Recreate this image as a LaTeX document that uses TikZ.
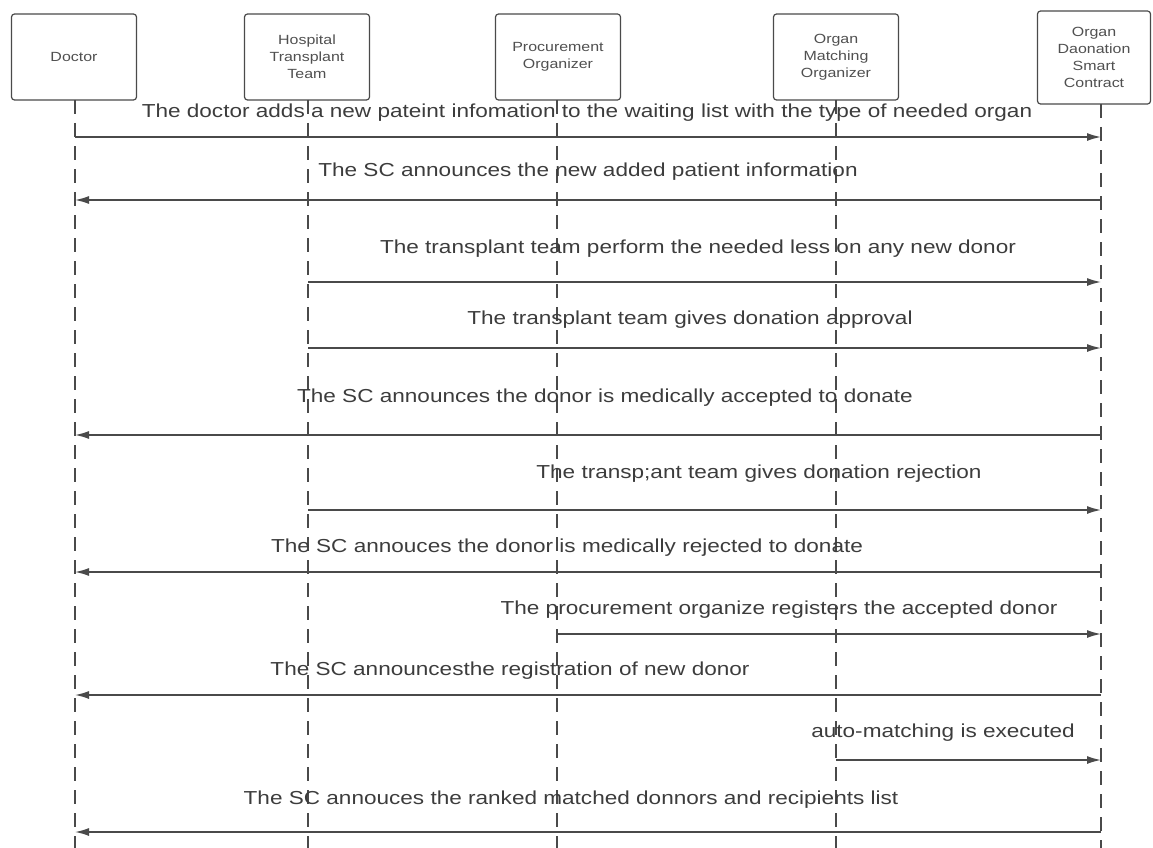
\documentclass[tikz,border=0pt]{standalone}
\usepackage{fontspec}
\setmainfont{Liberation Sans}[FakeStretch=1.2]
\usetikzlibrary{arrows.meta}
\definecolor{ln}{HTML}{4A4A4A}
\definecolor{tx}{HTML}{3C3C3C}
\definecolor{bt}{HTML}{505050}
\begin{document}
\begin{tikzpicture}[x=1pt,y=-1pt,
  actor/.style={draw=ln,line width=1.2pt,rounded corners=3pt,fill=white,align=center,
    font=\fontsize{13.3}{16.8}\selectfont,text=bt,inner sep=0pt},
  life/.style={draw=ln,line width=1.5pt,dash pattern=on 14pt off 9pt},
  msg/.style={draw=ln,line width=1.5pt,-{Latex[length=14pt,width=8pt]}},
  lbl/.style={font=\fontsize{18.8}{21}\selectfont,text=tx,inner sep=0pt}]
\useasboundingbox (0,0) rectangle (1153,848);
% actors
\node[actor,minimum width=125pt,minimum height=86pt] (doc) at (74,57) {Doctor};
\node[actor,minimum width=125pt,minimum height=86pt] (hos) at (307,57) {Hospital\\Transplant\\Team};
\node[actor,minimum width=125pt,minimum height=86pt] (pro) at (558,57) {Procurement\\Organizer};
\node[actor,minimum width=125pt,minimum height=86pt] (mat) at (836,57) {Organ\\Matching\\Organizer};
\node[actor,minimum width=113pt,minimum height=93pt] (sc) at (1094,57.5) {Organ\\Daonation\\Smart\\Contract};
% lifeline ends
\coordinate (docE) at (75,848);
\coordinate (hosE) at (308,848);
\coordinate (proE) at (557,848);
\coordinate (matE) at (836,848);
\coordinate (scE) at (1101,848);
\draw[life] (75,100) coordinate (docS) -- (docE);
\draw[life] (308,100) coordinate (hosS) -- (hosE);
\draw[life] (557,100) coordinate (proS) -- (proE);
\draw[life] (836,100) coordinate (matS) -- (matE);
\draw[life] (1101,104) coordinate (scS) -- (scE);
% message endpoints
\coordinate (d1) at (75,137);   \coordinate (s1) at (1101,137);
\coordinate (s2) at (1101,200); \coordinate (d2) at (75,200);
\coordinate (h3) at (308,282);  \coordinate (s3) at (1101,282);
\coordinate (h4) at (308,348);  \coordinate (s4) at (1101,348);
\coordinate (s5) at (1101,435); \coordinate (d5) at (75,435);
\coordinate (h6) at (308,510);  \coordinate (s6) at (1101,510);
\coordinate (s7) at (1101,572); \coordinate (d7) at (75,572);
\coordinate (p8) at (557,634);  \coordinate (s8) at (1101,634);
\coordinate (s9) at (1101,695); \coordinate (d9) at (75,695);
\coordinate (m10) at (836,760); \coordinate (s10) at (1101,760);
\coordinate (s11) at (1101,832); \coordinate (d11) at (75,832);
% messages
\draw[msg] (d1) -- (s1);
\draw[msg] (s2) -- (d2);
\draw[msg] (h3) -- (s3);
\draw[msg] (h4) -- (s4);
\draw[msg] (s5) -- (d5);
\draw[msg] (h6) -- (s6);
\draw[msg] (s7) -- (d7);
\draw[msg] (p8) -- (s8);
\draw[msg] (s9) -- (d9);
\draw[msg] (m10) -- (s10);
\draw[msg] (s11) -- (d11);
% labels
\node[lbl] (l1) at (587,113) {The doctor adds a new pateint infomation to the waiting list with the type of needed organ};
\node[lbl] (l2) at (588,172) {The SC announces the new added patient information};
\node[lbl] (l3) at (698,249) {The transplant team perform the needed less on any new donor};
\node[lbl] (l4) at (690,320) {The transplant team gives donation approval};
\node[lbl] (l5) at (605,398) {The SC announces the donor is medically accepted to donate};
\node[lbl] (l6) at (759,474) {The transp;ant team gives donation rejection};
\node[lbl] (l7) at (567,548) {The SC annouces the donor is medically rejected to donate};
\node[lbl] (l8) at (779,610) {The procurement organize registers the accepted donor};
\node[lbl] (l9) at (510,671) {The SC announcesthe registration of new donor};
\node[lbl] (l10) at (943,733) {auto-matching is executed};
\node[lbl] (l11) at (571,800) {The SC annouces the ranked matched donnors and recipients list};
\end{tikzpicture}
\end{document}
